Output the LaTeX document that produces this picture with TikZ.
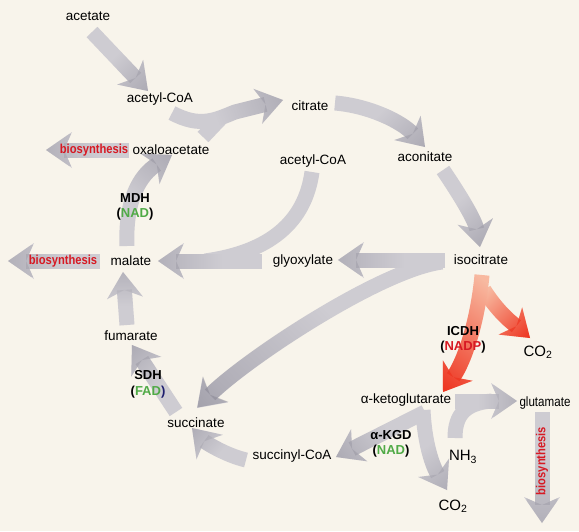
\documentclass[tikz,border=0pt]{standalone}
\usepackage{fontspec}
\setmainfont{Liberation Sans}
\newfontfamily\narrowfont[FakeStretch=0.86]{Liberation Sans}
\usetikzlibrary{arrows.meta,fadings}
\definecolor{bgc}{RGB}{248,244,235}
\definecolor{band}{RGB}{206,204,210}
\definecolor{tipc}{RGB}{130,128,142}
\definecolor{redband}{RGB}{248,185,160}
\definecolor{redtip}{RGB}{238,55,35}
\definecolor{grn}{RGB}{80,170,70}
\definecolor{rd}{RGB}{215,25,35}
\definecolor{navy}{RGB}{30,30,110}
\pgfdeclarehorizontalshading{tipshade}{100bp}{color(0bp)=(black); color(45bp)=(black); color(75bp)=(black!60!white); color(100bp)=(white)}
\tikzfading[name=tipfade, shading=tipshade]
\pgfdeclarelayer{back}
\pgfdeclarelayer{bands}
\pgfsetlayers{back,bands,main}
\tikzset{
  headtip/.style={-{Stealth[length=26pt,width=36pt,inset=8pt,line width=0pt]}},
  flow/.style={draw=band, line width=15pt, headtip,
    postaction={draw=tipc, path fading=tipfade, fading angle=#1}},
  trunk/.style={draw=band, line width=15pt},
  redflow/.style={draw=redband, line width=15pt, headtip,
    postaction={draw=redtip, path fading=west, fading angle=#1}},
  lbl/.style={font=\fontsize{13.5}{15}\selectfont, inner sep=1pt},
  big/.style={font=\fontsize{15}{17}\selectfont, inner sep=1pt},
  enz/.style={font=\fontsize{13}{15}\selectfont\bfseries, inner sep=1pt},
  bio/.style={font=\narrowfont\fontsize{13}{15}\selectfont\bfseries, text=rd, inner sep=1pt},
}
\begin{document}
\begin{tikzpicture}[x=1pt,y=-1pt]
\useasboundingbox (0,0) rectangle (579,531);
\begin{pgfonlayer}{back}
\fill[bgc] (0,0) rectangle (579,531);
\end{pgfonlayer}

% text nodes
\node[lbl] (acetate) at (88,16) {acetate};
\node[lbl] (acoA1) at (160,99) {acetyl-CoA};
\node[lbl] (citrate) at (310,106) {citrate};
\node[lbl] (aconitate) at (425,157) {aconitate};
\node[lbl] (acoA2) at (313,161) {acetyl-CoA};
\node[lbl] (oaa) at (171,150) {oxaloacetate};
\node[bio] (bio1) at (94,150) {biosynthesis};
\node[enz] (mdh) at (135,198) {MDH};
\node[enz] (nad1) at (135,214) {(\textcolor{grn}{NAD})};
\node[lbl] (malate) at (131,261) {malate};
\node[bio] (bio2) at (63,261) {biosynthesis};
\node[lbl] (glyox) at (303,261) {glyoxylate};
\node[lbl] (isocit) at (481,260) {isocitrate};
\node[lbl] (fumarate) at (131,336) {fumarate};
\node[enz] (sdh) at (148,375) {SDH};
\node[enz] (fad) at (148,392) {(\textcolor{grn}{FAD}\textcolor{navy}{)}};
\node[lbl] (succinate) at (196,423) {succinate};
\node[lbl] (succoa) at (292,456) {succinyl-CoA};
\node[lbl] (akg) at (406,400) {α-ketoglutarate};
\node[enz] (akgd) at (391,435) {α-KGD};
\node[enz] (nad2) at (391,451) {(\textcolor{grn}{NAD})};
\node[big] (nh3) at (463,457) {NH\textsubscript{3}};
\node[big] (co2b) at (453,506) {CO\textsubscript{2}};
\node[big] (co2r) at (538,352) {CO\textsubscript{2}};
\node[enz] (icdh) at (463,331) {ICDH};
\node[enz] (nadp) at (463,347) {(\textcolor{rd}{NADP})};
\node[font=\narrowfont\fontsize{13.5}{15}\selectfont, inner sep=1pt] (glut) at (545,403) {glutamate};
\node[bio, rotate=90] (bio3) at (542,461) {biosynthesis};

% connector end points
\coordinate (p1) at (92,32);   \coordinate (q1) at (148,91);
\coordinate (p2) at (172,113); \coordinate (q2) at (283,100);
\coordinate (p2b) at (203,137); \coordinate (q2b) at (222,117);
\coordinate (p3) at (335,103); \coordinate (q3) at (425,147);
\coordinate (p4) at (443,170); \coordinate (q4) at (480,247);
\coordinate (p5) at (445,260); \coordinate (q5) at (338,260);
\coordinate (p6) at (442,262); \coordinate (q6) at (197,408);
\coordinate (p7) at (312,172); \coordinate (q7) at (205,261);
\coordinate (p8) at (262,261); \coordinate (q8) at (158,261);
\coordinate (p9) at (127,246); \coordinate (q9) at (172,155);
\coordinate (p10) at (129,150); \coordinate (q10) at (46,150);
\coordinate (p11) at (100,261); \coordinate (q11) at (8,261);
\coordinate (p12) at (127,325); \coordinate (q12) at (123,272);
\coordinate (p13) at (176,412); \coordinate (q13) at (132,345);
\coordinate (p14) at (246,460); \coordinate (q14) at (192,428);
\coordinate (p15) at (425,412); \coordinate (q15) at (336,457);
\coordinate (p16) at (423,410); \coordinate (q16) at (447,490);
\coordinate (p17) at (455,401); \coordinate (q17) at (517,401);
\coordinate (p18) at (455,438); \coordinate (q18) at (492,401);
\coordinate (p19) at (542,412); \coordinate (q19) at (542,523);
\coordinate (p20) at (482,275); \coordinate (q20) at (443,392);
\coordinate (p21) at (484,290); \coordinate (q21) at (530,338);

\begin{pgfonlayer}{bands}
\draw[flow=-46] (p1) -- (q1);
\draw[trunk] (p2b) -- (q2b);
\draw[flow=7] (p2) .. controls (200,128) and (215,120) .. (235,112) -- (q2);
\draw[flow=-30] (p3) .. controls (370,106) and (402,122) .. (q3);
\draw[flow=-64] (p4) .. controls (460,195) and (475,220) .. (q4);
\draw[flow=211] (p6) .. controls (380,270) and (245,360) .. (q6);
\draw[flow=180] (p5) -- (q5);
\draw[trunk] (p7) .. controls (305,222) and (270,252) .. (q7);
\draw[flow=180] (p8) -- (q8);
\draw[flow=64] (p9) .. controls (125,200) and (140,175) .. (q9);
\draw[flow=180] (p10) -- (q10);
\draw[flow=180] (p11) -- (q11);
\draw[flow=90] (p12) -- (q12);
\draw[flow=123] (p13) -- (q13);
\draw[flow=149] (p14) .. controls (225,455) and (205,442) .. (q14);
\draw[flow=207] (p15) -- (q15);
\draw[flow=-73] (p16) .. controls (425,450) and (435,470) .. (q16);
\draw[trunk] (p18) .. controls (455,415) and (465,403) .. (q18);
\draw[flow=0] (p17) -- (q17);
\draw[flow=-90] (p19) -- (q19);
\draw[redflow=-46] (p21) .. controls (500,315) and (515,325) .. (q21);
\draw[redflow=-108] (p20) .. controls (478,320) and (465,360) .. (q20);
\end{pgfonlayer}
\end{tikzpicture}
\end{document}
